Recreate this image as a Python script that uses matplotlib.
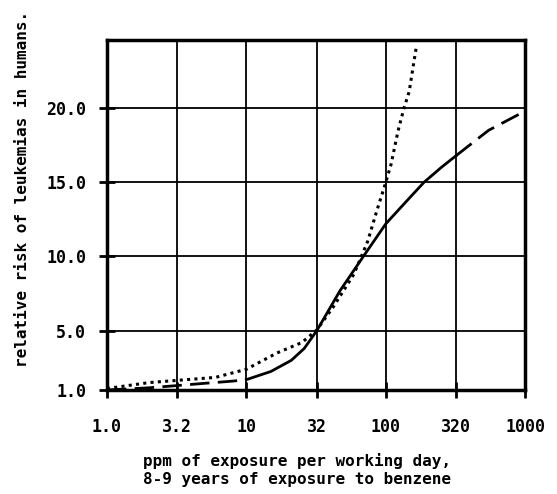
import matplotlib
matplotlib.use("Agg")
import matplotlib.pyplot as plt

# solid curve (observed range)
solid_x = [10, 15, 21, 26, 32, 47, 69, 100, 140, 188, 250, 320]
solid_y = [1.7, 2.25, 3.0, 3.8, 5.0, 7.7, 10.0, 12.2, 13.7, 15.0, 16.0, 16.8]

# dashed extrapolations below 10 and above 320 ppm
dash_lo_x = [1, 2, 3.2, 5, 8, 10]
dash_lo_y = [1.0, 1.15, 1.3, 1.45, 1.6, 1.7]
dash_hi_x = [320, 546, 1000]
dash_hi_y = [16.8, 18.5, 19.8]

# dotted curve
dot_x = [1, 2, 3.2, 6, 10, 16.6, 25, 32, 42, 59, 74, 87, 100, 109, 122, 135, 147, 166]
dot_y = [1.1, 1.5, 1.65, 1.85, 2.4, 3.5, 4.2, 5.05, 6.6, 8.8, 11, 13.2, 15, 16.2, 18.4, 20, 21.1, 24.2]

xticks = [1, 3.2, 10, 32, 100, 320, 1000]
xtick_labels = ["1.0", "3.2", "10", "32", "100", "320", "1000"]
yticks = [1, 5, 10, 15, 20]
ytick_labels = ["1.0", "5.0", "10.0", "15.0", "20.0"]

plt.rcParams["font.family"] = ["DejaVu Sans Mono"]
plt.rcParams["font.weight"] = "bold"

fig = plt.figure(figsize=(5.57, 4.94), dpi=100)
ax = fig.add_axes([0.192, 0.2105, 0.751, 0.709])

ax.set_xscale("log")
ax.set_xlim(1, 1000)
ax.set_ylim(1, 24.6)

for x in xticks[1:-1]:
    ax.axvline(x, color="black", lw=1.3, zorder=1)
for y in yticks[1:]:
    ax.axhline(y, color="black", lw=1.3, zorder=1)

ax.plot(solid_x, solid_y, color="black", lw=2.0, zorder=3)
ax.plot(dash_lo_x, dash_lo_y, color="black", lw=2.0, ls=(0, (7, 3)), zorder=3)
ax.plot(dash_hi_x, dash_hi_y, color="black", lw=2.0, ls=(0, (7, 3)), zorder=3)
ax.plot(dot_x, dot_y, color="black", lw=2.2, ls=(0, (1, 1.4)), zorder=3)

ax.set_xticks(xticks)
ax.set_xticklabels(xtick_labels)
ax.set_yticks(yticks)
ax.set_yticklabels(ytick_labels)
ax.minorticks_off()
ax.tick_params(axis="both", direction="inout", length=12, width=2, labelsize=12, color="black")
ax.tick_params(axis="x", pad=14)
ax.tick_params(axis="y", pad=9)

for s in ax.spines.values():
    s.set_linewidth(2.5)

ax.set_xlabel("ppm of exposure per working day,\n8-9 years of exposure to benzene",
              fontsize=11.5, fontweight="bold", linespacing=1.25)
ax.xaxis.set_label_coords(0.455, -0.18)
ax.set_ylabel("relative risk of leukemias in humans.", fontsize=11.5, fontweight="bold")
ax.yaxis.set_label_coords(-0.185, 0.575)

fig.savefig("out.png", dpi=100)
